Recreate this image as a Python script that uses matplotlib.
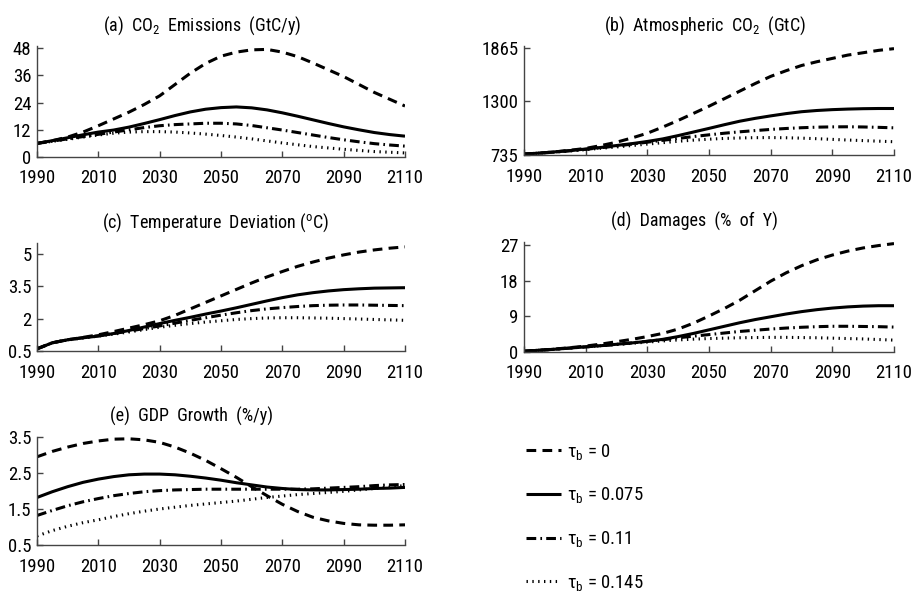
import matplotlib
matplotlib.use("Agg")
import matplotlib.pyplot as plt
from matplotlib import font_manager

names = {f.name for f in font_manager.fontManager.ttflist}
FONT, FS = "Liberation Sans", 12
for cand in ["Liberation Sans Narrow", "Roboto Condensed", "Open Sans Condensed",
             "Noto Sans Condensed", "DejaVu Sans Condensed"]:
    if cand in names:
        FONT, FS = cand, 13.5
        break
TFS = FS - 0.5
plt.rcParams['font.family'] = [FONT, 'DejaVu Sans']
plt.rcParams['mathtext.fontset'] = 'custom'
plt.rcParams['mathtext.rm'] = FONT
plt.rcParams['mathtext.it'] = FONT
plt.rcParams['mathtext.bf'] = FONT
plt.rcParams['lines.scale_dashes'] = False

# ---------------- data ----------------
years = list(range(1990, 2111, 5))

labels = ["τ$_{\\mathrm{b}}$ = 0", "τ$_{\\mathrm{b}}$ = 0.075",
          "τ$_{\\mathrm{b}}$ = 0.11", "τ$_{\\mathrm{b}}$ = 0.145"]

# (a) CO2 emissions (GtC/y)
emis_0 = [6.0, 7.2, 8.8, 11.0, 13.8, 16.8, 19.8, 23.2, 27.0, 32.0, 37.0, 41.3, 44.5,
          46.3, 47.3, 47.5, 46.3, 44.3, 41.5, 38.5, 35.5, 32.0, 28.5, 25.5, 22.5]
emis_075 = [6.0, 7.2, 8.5, 9.8, 11.0, 11.9, 13.2, 14.8, 16.5, 18.3, 19.9, 21.1, 21.8,
            22.1, 21.7, 20.8, 19.5, 18.0, 16.4, 14.8, 13.3, 12.0, 10.8, 9.9, 9.2]
emis_11 = [6.0, 7.0, 8.0, 9.0, 10.0, 11.0, 12.0, 13.0, 13.8, 14.3, 14.6, 14.9, 14.9,
           14.6, 13.9, 12.9, 11.9, 10.8, 9.7, 8.6, 7.6, 6.7, 5.9, 5.3, 4.8]
emis_145 = [6.0, 6.9, 7.8, 8.8, 9.7, 10.5, 11.0, 11.2, 11.2, 11.0, 10.6, 10.1, 9.5,
            8.8, 8.0, 7.1, 6.2, 5.4, 4.6, 4.0, 3.4, 2.9, 2.4, 2.1, 1.8]

# (b) Atmospheric CO2 (GtC)
atm_0 = [745, 755, 768, 785, 805, 835, 870, 915, 965, 1030, 1100, 1175, 1250,
         1330, 1410, 1490, 1565, 1625, 1680, 1720, 1755, 1790, 1815, 1840, 1858]
atm_075 = [745, 755, 768, 782, 798, 815, 835, 855, 878, 905, 940, 978, 1016,
           1055, 1092, 1122, 1148, 1172, 1192, 1205, 1214, 1220, 1224, 1226, 1226]
atm_11 = [745, 755, 766, 780, 795, 812, 830, 850, 870, 890, 910, 930, 948,
          965, 980, 993, 1005, 1015, 1023, 1029, 1032, 1033, 1031, 1027, 1022]
atm_145 = [745, 755, 765, 778, 792, 806, 820, 835, 850, 865, 880, 892, 902,
           910, 915, 918, 919, 917, 913, 907, 900, 893, 887, 881, 875]

# (c) Temperature deviation (deg C)
temp_0 = [0.6, 0.88, 1.02, 1.13, 1.25, 1.40, 1.56, 1.72, 1.90, 2.15, 2.45, 2.75, 3.05,
          3.35, 3.65, 3.93, 4.18, 4.42, 4.62, 4.80, 4.95, 5.08, 5.18, 5.26, 5.32]
temp_075 = [0.6, 0.88, 1.02, 1.11, 1.19, 1.31, 1.45, 1.61, 1.77, 1.92, 2.06, 2.21, 2.35,
            2.50, 2.66, 2.82, 2.97, 3.10, 3.20, 3.28, 3.34, 3.38, 3.41, 3.42, 3.43]
temp_11 = [0.6, 0.88, 1.02, 1.12, 1.21, 1.31, 1.42, 1.54, 1.66, 1.79, 1.92, 2.04, 2.16,
           2.27, 2.37, 2.45, 2.51, 2.56, 2.60, 2.62, 2.63, 2.63, 2.62, 2.61, 2.60]
temp_145 = [0.6, 0.88, 1.01, 1.10, 1.19, 1.28, 1.38, 1.49, 1.60, 1.69, 1.77, 1.84, 1.90,
            1.96, 2.00, 2.03, 2.04, 2.04, 2.03, 2.02, 2.00, 1.98, 1.96, 1.94, 1.92]

# (d) Damages (% of Y)
dam_0 = [0.2, 0.45, 0.75, 1.1, 1.5, 2.0, 2.6, 3.2, 3.9, 4.7, 5.8, 7.3, 9.1,
         11.0, 13.1, 15.5, 17.9, 20.0, 21.8, 23.3, 24.5, 25.5, 26.3, 26.9, 27.4]
dam_075 = [0.2, 0.45, 0.7, 1.0, 1.3, 1.6, 1.95, 2.3, 2.7, 3.2, 3.9, 4.7, 5.6,
           6.5, 7.4, 8.2, 8.9, 9.6, 10.2, 10.7, 11.1, 11.4, 11.6, 11.7, 11.7]
dam_11 = [0.2, 0.45, 0.7, 1.0, 1.3, 1.6, 1.9, 2.3, 2.7, 3.1, 3.6, 4.0, 4.4,
          4.8, 5.2, 5.5, 5.8, 6.05, 6.25, 6.4, 6.5, 6.5, 6.45, 6.4, 6.3]
dam_145 = [0.2, 0.45, 0.7, 1.0, 1.3, 1.6, 1.9, 2.2, 2.5, 2.8, 3.05, 3.25, 3.4,
           3.5, 3.6, 3.65, 3.7, 3.7, 3.65, 3.6, 3.5, 3.4, 3.3, 3.15, 3.0]

# (e) GDP growth (%/y)
gdp_0 = [2.95, 3.10, 3.22, 3.32, 3.39, 3.44, 3.45, 3.42, 3.35, 3.22, 3.05, 2.85, 2.62,
         2.38, 2.12, 1.87, 1.63, 1.43, 1.27, 1.17, 1.10, 1.06, 1.05, 1.05, 1.06]
gdp_075 = [1.82, 1.98, 2.12, 2.24, 2.33, 2.40, 2.45, 2.47, 2.47, 2.45, 2.41, 2.36, 2.30,
           2.23, 2.17, 2.11, 2.07, 2.04, 2.03, 2.03, 2.04, 2.05, 2.07, 2.08, 2.10]
gdp_11 = [1.32, 1.46, 1.59, 1.70, 1.79, 1.87, 1.93, 1.98, 2.01, 2.03, 2.04, 2.05, 2.05,
          2.05, 2.05, 2.05, 2.05, 2.05, 2.06, 2.08, 2.10, 2.12, 2.15, 2.17, 2.18]
gdp_145 = [0.75, 0.90, 1.02, 1.12, 1.20, 1.29, 1.37, 1.44, 1.50, 1.55, 1.60, 1.64, 1.68,
           1.72, 1.77, 1.82, 1.86, 1.90, 1.93, 1.96, 1.99, 2.03, 2.07, 2.11, 2.15]

xticks = [1990, 2010, 2030, 2050, 2070, 2090, 2110]

panels = [
    ("(a)  CO$_{2}$  Emissions  (GtC/y)", [emis_0, emis_075, emis_11, emis_145],
     [0, 12, 24, 36, 48], ["0", "12", "24", "36", "48"], (0, 49)),
    ("(b)  Atmospheric  CO$_{2}$  (GtC)", [atm_0, atm_075, atm_11, atm_145],
     [735, 1300, 1865], ["735", "1300", "1865"], (735, 1886)),
    ("(c)  Temperature  Deviation ($^{\\mathrm{o}}$C)", [temp_0, temp_075, temp_11, temp_145],
     [0.5, 2, 3.5, 5], ["0.5", "2", "3.5", "5"], (0.5, 5.5)),
    ("(d)  Damages  (%  of  Y)", [dam_0, dam_075, dam_11, dam_145],
     [0, 9, 18, 27], ["0", "9", "18", "27"], (0, 27.8)),
    ("(e)  GDP  Growth  (%/y)", [gdp_0, gdp_075, gdp_11, gdp_145],
     [0.5, 1.5, 2.5, 3.5], ["0.5", "1.5", "2.5", "3.5"], (0.5, 3.5)),
]

# ---------------- layout / style ----------------
W, H = 916, 592
fig = plt.figure(figsize=(W / 100, H / 100), dpi=100)

def rect(l, t, r, b):
    return [l / W, 1 - b / H, (r - l) / W, (b - t) / H]

rects = [rect(37, 46, 405, 157), rect(524, 46, 894, 155),
         rect(37, 243, 405, 351), rect(524, 242, 894, 352),
         rect(37, 437, 405, 545)]
title_x = [0.45, 0.49, 0.485, 0.46, 0.42]

styles = [dict(linestyle=(0, (7, 4.5))),
          dict(linestyle='-'),
          dict(linestyle=(0, (7, 3, 1.2, 3))),
          dict(linestyle=(0, (1.0, 3.2)))]
LW = 2.2
spine_col = '#444444'

handles = []
for i, (title, series, yt, ytl, ylim) in enumerate(panels):
    ax = fig.add_axes(rects[i])
    for s, st in zip(series, styles):
        ln, = ax.plot(years, s, color='black', lw=LW, solid_capstyle='butt',
                      dash_capstyle='butt', **st)
        if i == 0:
            handles.append(ln)
    ax.set_xlim(1990, 2110)
    ax.set_ylim(*ylim)
    ax.set_xticks(xticks)
    ax.set_xticklabels([str(x) for x in xticks])
    ax.set_yticks(yt)
    ax.set_yticklabels(ytl)
    for sp in ['top', 'right']:
        ax.spines[sp].set_visible(False)
    for sp in ['left', 'bottom']:
        ax.spines[sp].set_color(spine_col)
        ax.spines[sp].set_linewidth(1.0)
    ax.tick_params(direction='in', length=4, width=1.0, color=spine_col,
                   labelsize=FS, pad=4)
    ax.tick_params(axis='x', pad=9)
    ax.set_title(title, fontsize=TFS, pad=11, x=title_x[i])

fig.legend(handles, labels, loc='upper left', bbox_to_anchor=(518 / W, 1 - 434 / H),
           frameon=False, fontsize=FS, handlelength=1.9, handletextpad=0.3,
           labelspacing=1.27, borderaxespad=0)

fig.savefig("out.png", dpi=100)
